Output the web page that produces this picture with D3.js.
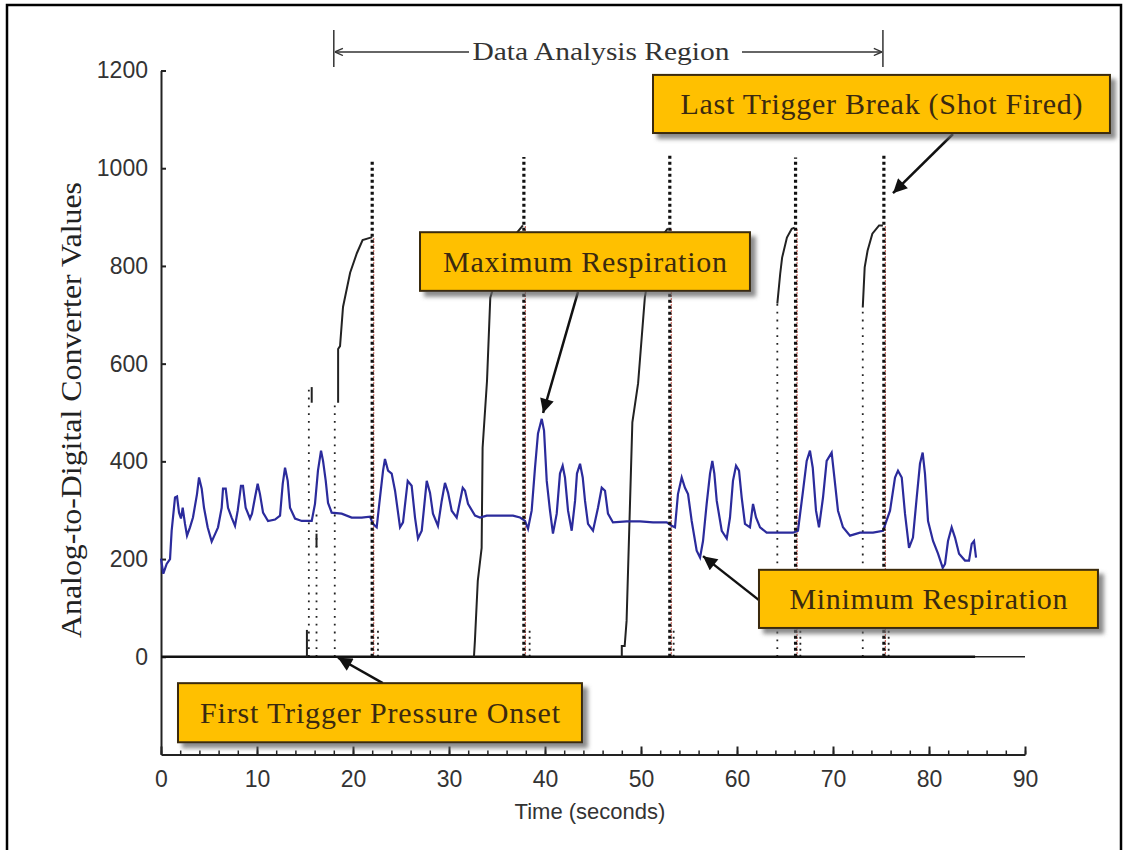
<!DOCTYPE html>
<html>
<head>
<meta charset="utf-8">
<script src="https://cdn.jsdelivr.net/npm/d3@7"></script>
<style>
body { margin: 0; background: #fff; }
svg { display: block; }
</style>
</head>
<body>
<script>
// respiration signal (blue), time in seconds and ADC value
var respTime = [0.00,0.24,0.59,0.94,1.11,1.46,1.67,1.88,2.08,2.26,
    2.50,2.71,3.02,3.33,3.75,3.96,4.24,4.48,4.86,5.28,
    5.63,5.94,6.32,6.46,6.74,6.98,7.36,7.71,7.99,8.33,
    8.54,8.82,9.27,9.48,9.79,10.07,10.31,10.63,11.15,11.88,
    12.40,12.68,12.92,13.20,13.44,13.96,14.66,15.70,16.04,16.35,
    16.67,16.88,17.16,17.40,17.78,18.82,19.86,20.91,21.77,22.08,
    22.47,22.81,23.13,23.33,23.65,24.03,24.38,24.90,25.21,25.70,
    26.11,26.46,26.77,27.16,27.68,28.02,28.33,28.85,29.24,29.58,
    29.90,30.28,30.80,31.15,31.43,31.67,31.98,32.71,33.23,33.93,
    35.31,36.67,37.40,37.92,38.23,38.61,38.96,39.27,39.66,39.90,
    40.18,40.52,40.83,41.22,41.56,41.84,42.08,42.40,42.78,43.13,
    43.33,43.65,43.93,44.17,44.48,45.00,45.52,45.91,46.25,46.56,
    47.08,48.51,49.90,51.25,52.68,53.20,53.54,53.85,54.24,54.58,
    54.90,55.28,55.80,56.15,56.46,56.84,57.19,57.43,57.64,57.89,
    58.41,58.93,59.27,59.58,59.90,60.21,60.49,60.83,61.35,61.67,
    61.98,62.40,63.09,64.48,65.83,66.35,66.88,67.26,67.60,67.89,
    68.23,68.54,68.96,69.34,69.86,70.10,70.52,71.04,71.77,72.81,
    74.17,75.21,75.94,76.46,76.77,77.16,77.50,77.92,78.33,78.72,
    79.06,79.34,79.58,79.90,80.42,80.94,81.43,81.67,81.98,82.36,
    82.71,83.13,83.75,84.17,84.45,84.69,84.90];
var respValue = [201,170,190,200,258,326,328,295,283,305,
    272,248,265,285,333,367,344,305,265,236,
    251,265,305,344,344,305,285,268,299,350,
    350,305,283,293,326,354,333,295,278,281,
    289,354,387,360,305,283,278,278,313,381,
    422,401,360,315,295,293,285,285,287,272,
    265,326,381,405,381,375,340,265,275,360,
    350,285,242,258,360,336,293,268,319,356,
    336,299,285,319,346,340,313,289,285,289,
    289,289,285,278,262,299,387,457,487,463,
    360,299,252,293,375,391,367,299,258,319,
    375,395,367,319,272,258,305,346,340,293,
    275,277,277,275,275,268,265,333,367,346,
    333,278,217,203,237,313,375,401,375,319,
    258,242,285,360,391,381,326,272,265,313,
    285,265,254,254,254,258,340,401,422,387,
    299,265,326,401,418,375,299,265,248,254,
    254,258,299,367,381,367,293,223,244,326,
    395,418,375,278,237,211,182,190,237,265,
    244,211,197,197,231,237,203];

// trigger pressure (black), [time, value]
var pressureCurves = [
    [[15.2, 0], [15.2, 55]],
    [[15.7, 520], [15.7, 552]],
    [[16.2, 224], [16.2, 252]],
    [[18.45, 520], [18.45, 630], [18.65, 636], [18.96, 716], [19.7, 786], [20.4, 826], [21.0, 853], [22.0, 859]],
    [[32.6, 0], [32.7, 33], [33.0, 156], [33.4, 223], [33.5, 428], [33.96, 565], [34.3, 735], [35.3, 800], [36.4, 852], [37.7, 883]],
    [[48.0, 0], [48.0, 22], [48.3, 22], [48.5, 74], [49.1, 480], [49.7, 560], [50.4, 735], [51.0, 807], [52.0, 856], [52.8, 877]],
    [[64.2, 723], [64.5, 784], [64.7, 817], [65.2, 858], [65.7, 876], [66.0, 878]],
    [[73.1, 715], [73.3, 797], [73.6, 831], [74.1, 866], [74.8, 883], [75.2, 883]]
];
var baselineEnd = 84.8;

// sparse onset samples
var onsetTimes = [15.4, 16.2, 18.1, 64.2, 73.1];
var onsetTops = [552, 300, 520, 723, 715];

// shot (trigger break) markers
var shotTimes = [22.0, 37.8, 53.0, 66.1, 75.3];
var shotTops = [1015, 1023, 1026, 1022, 1026];
var shotPeaks = [859, 883, 877, 878, 883];
var stubTimes = [22.6, 38.4, 53.4, 66.6, 75.8];
var stubTop = 55;

// axes
var xTicks = [0, 10, 20, 30, 40, 50, 60, 70, 80, 90];
var xMinorTicks = d3.range(0, 91, 2);
var yTicks = [0, 200, 400, 600, 800, 1000, 1200];

// annotations, in data units
var regionStart = 18.0, regionEnd = 75.2;
var notes = [
    {text: "Last Trigger Break (Shot Fired)", x0: 51.25, x1: 98.85, y0: 1191, y1: 1072, len: 402,
        from: [82.5, 1070], to: [76.25, 949]},
    {text: "Maximum Respiration", x0: 26.98, x1: 61.35, y0: 869, y1: 749, len: 284,
        from: [43.44, 747], to: [39.8, 499]},
    {text: "Minimum Respiration", x0: 62.29, x1: 97.6, y0: 178, y1: 59, len: 278,
        from: [62.29, 116], to: [56.46, 206]},
    {text: "First Trigger Pressure Onset", x0: 1.77, x1: 43.85, y0: -54, y1: -175, len: 360,
        from: [23.1, -54], to: [18.44, -2]}
];

var width = 1127;
var height = 850;

var svg = d3.select("body")
    .append("svg")
    .attr("width", width)
    .attr("height", height);

var x = d3.scaleLinear().domain([0, 90]).range([161, 1025]);
var y = d3.scaleLinear().domain([-200, 1200]).range([754.5, 70.5]);

var defs = svg.append("defs");
defs.append("marker")
    .attr("id", "head")
    .attr("viewBox", "0 -5 10 10")
    .attr("refX", 10)
    .attr("refY", 0)
    .attr("markerWidth", 17)
    .attr("markerHeight", 14)
    .attr("markerUnits", "userSpaceOnUse")
    .attr("orient", "auto")
    .append("path")
    .attr("d", "M0,-5L10,0L0,5Z")
    .attr("fill", "#111");
defs.append("marker")
    .attr("id", "chev")
    .attr("viewBox", "0 -5 10 10")
    .attr("refX", 10)
    .attr("refY", 0)
    .attr("markerWidth", 9)
    .attr("markerHeight", 9)
    .attr("markerUnits", "userSpaceOnUse")
    .attr("orient", "auto")
    .append("path")
    .attr("d", "M1,-4L10,0L1,4")
    .attr("fill", "none")
    .attr("stroke", "#333")
    .attr("stroke-width", 1.5);
var shadow = defs.append("filter")
    .attr("id", "shadow")
    .attr("x", "-10%").attr("y", "-20%")
    .attr("width", "130%").attr("height", "160%");
shadow.append("feDropShadow")
    .attr("dx", 5).attr("dy", 5)
    .attr("stdDeviation", 2)
    .attr("flood-color", "#666")
    .attr("flood-opacity", 0.75);

// outer frame
svg.append("rect")
    .attr("x", 7).attr("y", 5)
    .attr("width", 1114).attr("height", 870)
    .attr("fill", "none")
    .attr("stroke", "#000")
    .attr("stroke-width", 2.5);

// y axis, ticks pointing inward
var yAxis = svg.append("g")
    .attr("transform", "translate(" + x(0) + ",0)")
    .call(d3.axisLeft(y).tickValues(yTicks).tickFormat(d3.format("d"))
        .tickSizeInner(-5).tickSizeOuter(0).tickPadding(13));
yAxis.select(".domain").attr("stroke", "#222").attr("stroke-width", 2);
yAxis.selectAll(".tick line").attr("stroke", "#222").attr("stroke-width", 2);
yAxis.selectAll("text")
    .style("font-family", "'Liberation Sans', Arial, sans-serif")
    .style("font-size", "23px")
    .attr("fill", "#333");

// x axis, major and minor ticks
var xMinor = svg.append("g")
    .attr("transform", "translate(0," + y(-200) + ")")
    .call(d3.axisBottom(x).tickValues(xMinorTicks).tickSizeInner(-4).tickSizeOuter(0).tickFormat(""));
xMinor.select(".domain").remove();
xMinor.selectAll(".tick line").attr("stroke", "#222").attr("stroke-width", 1.5);

var xAxis = svg.append("g")
    .attr("transform", "translate(0," + y(-200) + ")")
    .call(d3.axisBottom(x).tickValues(xTicks).tickSizeInner(-8).tickSizeOuter(0).tickPadding(16));
xAxis.select(".domain").attr("stroke", "#222").attr("stroke-width", 2);
xAxis.selectAll(".tick line").attr("stroke", "#222").attr("stroke-width", 2);
xAxis.selectAll("text")
    .style("font-family", "'Liberation Sans', Arial, sans-serif")
    .style("font-size", "23px")
    .attr("fill", "#333");

// axis titles
svg.append("text")
    .attr("x", 590)
    .attr("y", 819)
    .attr("text-anchor", "middle")
    .style("font-family", "'Liberation Sans', Arial, sans-serif")
    .style("font-size", "22px")
    .attr("fill", "#333")
    .text("Time (seconds)");

svg.append("text")
    .attr("transform", "translate(81,410) rotate(-90)")
    .attr("text-anchor", "middle")
    .attr("textLength", 456)
    .attr("lengthAdjust", "spacingAndGlyphs")
    .style("font-family", "'Liberation Serif', 'Times New Roman', serif")
    .style("font-size", "30px")
    .attr("fill", "#222")
    .text("Analog-to-Digital Converter Values");

// zero reference line
svg.append("line")
    .attr("x1", x(0)).attr("x2", x(90))
    .attr("y1", y(0)).attr("y2", y(0))
    .attr("stroke", "#222")
    .attr("stroke-width", 1.5);

var line = d3.line()
    .x(function(d) { return x(d[0]); })
    .y(function(d) { return y(d[1]); });

// sparse onset samples
svg.selectAll(".onset")
    .data(onsetTimes)
    .enter()
    .append("line")
    .attr("class", "onset")
    .attr("x1", function(d) { return x(d); })
    .attr("x2", function(d) { return x(d); })
    .attr("y1", y(0))
    .attr("y2", function(d, i) { return y(onsetTops[i]); })
    .attr("stroke", "#222")
    .attr("stroke-width", 1.8)
    .attr("stroke-dasharray", "1.8,6");

svg.selectAll(".stub")
    .data(stubTimes)
    .enter()
    .append("line")
    .attr("class", "stub")
    .attr("x1", function(d) { return x(d); })
    .attr("x2", function(d) { return x(d); })
    .attr("y1", y(0))
    .attr("y2", y(stubTop))
    .attr("stroke", "#222")
    .attr("stroke-width", 1.8)
    .attr("stroke-dasharray", "2,4");

// red trace under each shot marker
svg.selectAll(".shotRed")
    .data(shotTimes)
    .enter()
    .append("line")
    .attr("class", "shotRed")
    .attr("x1", function(d) { return x(d) + 1.5; })
    .attr("x2", function(d) { return x(d) + 1.5; })
    .attr("y1", y(0))
    .attr("y2", function(d, i) { return y(shotPeaks[i]); })
    .attr("stroke", "#c0392b")
    .attr("stroke-width", 1.2)
    .attr("stroke-dasharray", "1.5,1.5");

// trigger pressure curves
svg.append("line")
    .attr("x1", x(0)).attr("x2", x(baselineEnd))
    .attr("y1", y(0)).attr("y2", y(0))
    .attr("stroke", "#111")
    .attr("stroke-width", 2.5);

svg.selectAll(".pressure")
    .data(pressureCurves)
    .enter()
    .append("path")
    .attr("class", "pressure")
    .attr("d", line)
    .attr("fill", "none")
    .attr("stroke", "#222")
    .attr("stroke-width", 2);

// respiration
svg.append("path")
    .datum(d3.zip(respTime, respValue))
    .attr("d", line)
    .attr("fill", "none")
    .attr("stroke", "#2b2b9c")
    .attr("stroke-width", 2.2);

// shot markers, heavy dotted
svg.selectAll(".shot")
    .data(shotTimes)
    .enter()
    .append("line")
    .attr("class", "shot")
    .attr("x1", function(d) { return x(d); })
    .attr("x2", function(d) { return x(d); })
    .attr("y1", y(0))
    .attr("y2", function(d, i) { return y(shotTops[i]); })
    .attr("stroke", "#111")
    .attr("stroke-width", 3.2)
    .attr("stroke-dasharray", "3,3");

// data analysis region
var regY = y(1238);
svg.selectAll(".regBar")
    .data([regionStart, regionEnd])
    .enter()
    .append("line")
    .attr("x1", function(d) { return x(d); })
    .attr("x2", function(d) { return x(d); })
    .attr("y1", y(1283))
    .attr("y2", y(1207))
    .attr("stroke", "#333")
    .attr("stroke-width", 1.5);
svg.append("line")
    .attr("x1", 469).attr("x2", x(regionStart) + 1)
    .attr("y1", regY).attr("y2", regY)
    .attr("stroke", "#333").attr("stroke-width", 1.5)
    .attr("marker-end", "url(#chev)");
svg.append("line")
    .attr("x1", 742).attr("x2", x(regionEnd) - 1)
    .attr("y1", regY).attr("y2", regY)
    .attr("stroke", "#333").attr("stroke-width", 1.5)
    .attr("marker-end", "url(#chev)");
svg.append("text")
    .attr("x", 601)
    .attr("y", regY + 8)
    .attr("text-anchor", "middle")
    .attr("textLength", 257)
    .attr("lengthAdjust", "spacingAndGlyphs")
    .style("font-family", "'Liberation Serif', 'Times New Roman', serif")
    .style("font-size", "26px")
    .attr("fill", "#333")
    .text("Data Analysis Region");

// callout boxes
var note = svg.selectAll(".note")
    .data(notes)
    .enter()
    .append("g")
    .attr("class", "note");

note.append("line")
    .attr("x1", function(d) { return x(d.from[0]); })
    .attr("y1", function(d) { return y(d.from[1]); })
    .attr("x2", function(d) { return x(d.to[0]); })
    .attr("y2", function(d) { return y(d.to[1]); })
    .attr("stroke", "#111")
    .attr("stroke-width", 2.5)
    .attr("marker-end", "url(#head)");

note.append("rect")
    .attr("x", function(d) { return x(d.x0); })
    .attr("y", function(d) { return y(d.y0); })
    .attr("width", function(d) { return x(d.x1) - x(d.x0); })
    .attr("height", function(d) { return y(d.y1) - y(d.y0); })
    .attr("fill", "#ffc000")
    .attr("stroke", "#3a2a0c")
    .attr("stroke-width", 2)
    .attr("filter", "url(#shadow)");

note.append("text")
    .attr("x", function(d) { return (x(d.x0) + x(d.x1)) / 2; })
    .attr("y", function(d) { return (y(d.y0) + y(d.y1)) / 2; })
    .attr("dy", ".35em")
    .attr("text-anchor", "middle")
    .attr("textLength", function(d) { return d.len; })
    .attr("lengthAdjust", "spacing")
    .style("font-family", "'Liberation Serif', 'Times New Roman', serif")
    .style("font-size", "30px")
    .attr("fill", "#3b2a10")
    .text(function(d) { return d.text; });
</script>
</body>
</html>
